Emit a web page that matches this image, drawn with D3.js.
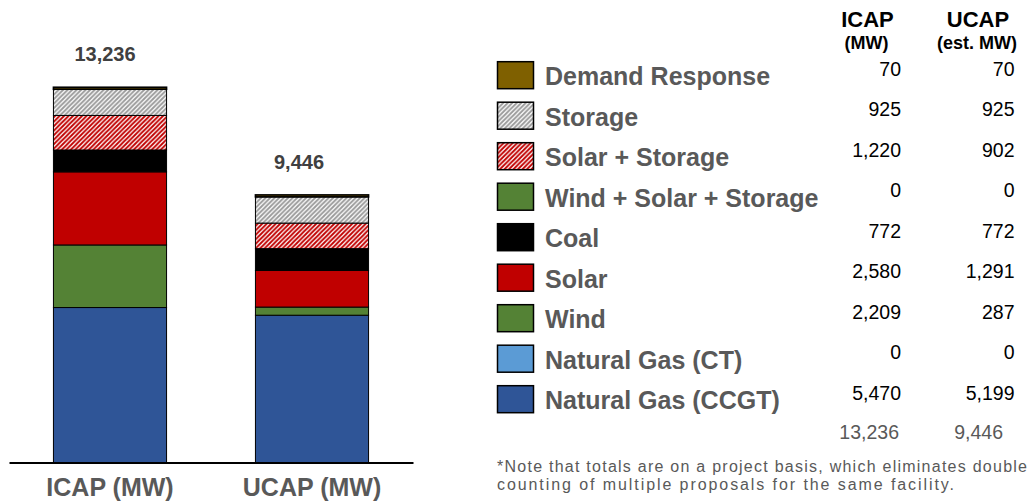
<!DOCTYPE html>
<html>
<head>
<meta charset="utf-8">
<script src="https://cdn.jsdelivr.net/npm/d3@7"></script>
<style>
  html, body { margin: 0; padding: 0; background: #fff; }
  svg { display: block; font-family: Arial, "Liberation Sans", sans-serif; }
</style>
</head>
<body>
<div id="chart"></div>
<script>
// Chart data (legend order, top to bottom)
const categories = [
    "Demand Response", "Storage", "Solar + Storage", "Wind + Solar + Storage",
    "Coal", "Solar", "Wind", "Natural Gas (CT)", "Natural Gas (CCGT)"
];
const icapValues = [70, 925, 1220, 0, 772, 2580, 2209, 0, 5470];
const ucapValues = [70, 925, 902, 0, 772, 1291, 287, 0, 5199];
const barLabels = ["ICAP (MW)", "UCAP (MW)"];
const barTotals = [13236, 9446];
const columnHeaders = ["ICAP", "UCAP"];
const columnUnits = ["(MW)", "(est. MW)"];
const noteLines = [
    "*Note that totals are on a project basis, which eliminates double",
    "counting of multiple proposals for the same facility."
];

// Styles
const fills = {
    "Demand Response": "#7f6000",
    "Storage": "url(#hatch-gray)",
    "Solar + Storage": "url(#hatch-red)",
    "Wind + Solar + Storage": "#548235",
    "Coal": "#000000",
    "Solar": "#c00000",
    "Wind": "#548235",
    "Natural Gas (CT)": "#5b9bd5",
    "Natural Gas (CCGT)": "#2f5597"
};
const labelNudge = [-5, -13];
const fmt = d3.format(",");

const width = 1036, height = 502;
const baseY = 462.5;

const svg = d3.select('#chart')
    .append('svg')
    .attr('width', width)
    .attr('height', height);

// Hatch patterns for storage types
const defs = svg.append('defs');
[["hatch-gray", "#9a9a9a"], ["hatch-red", "#c00000"]].forEach(([id, col]) => {
    const p = defs.append('pattern')
        .attr('id', id)
        .attr('patternUnits', 'userSpaceOnUse')
        .attr('width', 4.5)
        .attr('height', 4.5);
    p.append('rect').attr('width', 4.5).attr('height', 4.5).attr('fill', '#fff');
    p.append('path')
        .attr('d', 'M-1.125,1.125 l2.25,-2.25 M0,4.5 l4.5,-4.5 M3.375,5.625 l2.25,-2.25')
        .attr('stroke', col)
        .attr('stroke-width', 1.9);
});

// Scales
const x = d3.scaleBand()
    .domain(barLabels)
    .range([9, 413])
    .paddingInner(0.44)
    .paddingOuter(0.22);

const y = d3.scaleLinear()
    .domain([0, 14000])
    .range([baseY, baseY - 14000 * 0.02833]);

// Stacked bars
const rows = barLabels.map((b, i) => {
    const vals = i === 0 ? icapValues : ucapValues;
    const r = { bar: b };
    categories.forEach((c, j) => { r[c] = vals[j]; });
    return r;
});
const series = d3.stack().keys(categories.slice().reverse())(rows);

svg.append('g')
    .selectAll('g')
    .data(series)
    .join('g')
    .attr('fill', d => fills[d.key])
    .selectAll('rect')
    .data(d => d)
    .join('rect')
    .attr('x', d => x(d.data.bar))
    .attr('y', d => y(d[1]))
    .attr('width', x.bandwidth())
    .attr('height', d => y(d[0]) - y(d[1]))
    .attr('stroke', '#000')
    .attr('stroke-width', d => d.data["Demand Response"] && d[1] === d3.sum(categories, c => d.data[c]) ? 1.6 : 1);

// Totals above bars
svg.append('g')
    .selectAll('text')
    .data(rows)
    .join('text')
    .attr('x', (d, i) => x(d.bar) + x.bandwidth() / 2 + labelNudge[i])
    .attr('y', (d, i) => y(d3.sum(categories, c => d[c])) - 26)
    .attr('text-anchor', 'middle')
    .attr('font-size', 20)
    .attr('font-weight', 'bold')
    .attr('fill', '#404040')
    .text((d, i) => fmt(barTotals[i]));

// Category axis
const axis = svg.append('g')
    .attr('transform', `translate(0,${baseY})`)
    .call(d3.axisBottom(x).tickSize(0).tickSizeOuter(0).tickPadding(16));
axis.select('.domain').attr('stroke', '#000').attr('stroke-width', 2);
axis.selectAll('text')
    .attr('font-family', 'Arial, "Liberation Sans", sans-serif')
    .attr('font-size', 25)
    .attr('font-weight', 'bold')
    .attr('fill', '#595959');

// Legend table
const rowY = d3.scalePoint().domain(categories).range([61.7, 385.7]);
const colX = [901, 1014.5];
const colMid = [867.5, 978];

const legend = svg.append('g');
const item = legend.selectAll('g')
    .data(categories)
    .join('g')
    .attr('transform', d => `translate(0,${rowY(d)})`);

item.append('rect')
    .attr('x', 497.5)
    .attr('y', 0)
    .attr('width', 36)
    .attr('height', 27)
    .attr('fill', d => fills[d])
    .attr('stroke', '#000')
    .attr('stroke-width', 1.5);

item.append('text')
    .attr('x', 545)
    .attr('y', 23.5)
    .attr('font-size', 25)
    .attr('font-weight', 'bold')
    .attr('fill', '#595959')
    .text(d => d);

[icapValues, ucapValues].forEach((vals, k) => {
    item.append('text')
        .attr('x', colX[k])
        .attr('y', 14)
        .attr('text-anchor', 'end')
        .attr('font-size', 19.5)
        .attr('fill', '#000')
        .text((d, j) => fmt(vals[j]));
});

// Column headers
legend.selectAll('text.head')
    .data(columnHeaders)
    .join('text')
    .attr('class', 'head')
    .attr('x', (d, i) => colMid[i])
    .attr('y', 27)
    .attr('text-anchor', 'middle')
    .attr('font-size', 22)
    .attr('font-weight', 'bold')
    .attr('fill', '#000')
    .text(d => d);

legend.selectAll('text.unit')
    .data(columnUnits)
    .join('text')
    .attr('class', 'unit')
    .attr('x', (d, i) => colMid[i] - 1)
    .attr('y', 49)
    .attr('text-anchor', 'middle')
    .attr('font-size', 18)
    .attr('font-weight', 'bold')
    .attr('fill', '#000')
    .text(d => d);

// Table totals
legend.selectAll('text.total')
    .data(barTotals)
    .join('text')
    .attr('class', 'total')
    .attr('x', (d, i) => [899, 1003][i])
    .attr('y', 438.5)
    .attr('text-anchor', 'end')
    .attr('font-size', 19.5)
    .attr('fill', '#595959')
    .text(d => fmt(d));

// Footnote
svg.append('g')
    .selectAll('text')
    .data(noteLines)
    .join('text')
    .attr('x', 497)
    .attr('y', (d, i) => 471.5 + i * 18.5)
    .attr('font-size', 16)
    .attr('fill', '#595959')
    .attr('textLength', (d, i) => [530, 457][i])
    .attr('lengthAdjust', 'spacing')
    .text(d => d);
</script>
</body>
</html>
